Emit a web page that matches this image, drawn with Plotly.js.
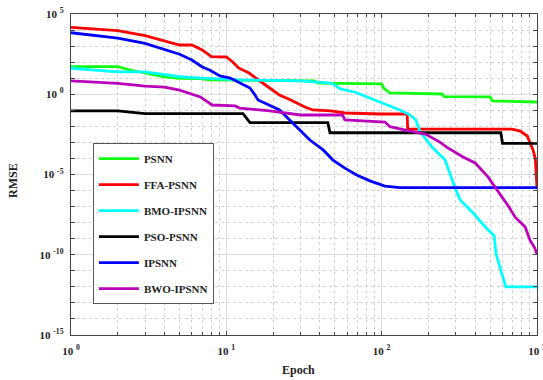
<!DOCTYPE html>
<html>
<head>
<meta charset="utf-8">
<script src="https://cdn.plot.ly/plotly-3.0.1.min.js"></script>
<style>html,body{margin:0;padding:0;background:#fff;}#chart{width:543px;height:380px;}</style>
</head>
<body>
<div id="chart"></div>
<script>
// Series names
const seriesNames = ["PSNN", "FFA-PSNN", "BMO-IPSNN", "PSO-PSNN", "IPSNN", "BWO-IPSNN"];
const seriesColors = ["#11ff11", "#ff0000", "#00ffff", "#000000", "#0000ff", "#bb00bb"];

// PSNN
const psnnEpoch = [1, 2, 2.4, 3, 4, 5, 6.8, 7.8, 30, 37, 39, 100, 103, 113, 245, 252, 500, 515, 1000];
const psnnRmse  = [52.5, 52.5, 32.4, 20.4, 12.3, 9.8, 9.3, 7.8, 6.8, 6.8, 5.0, 4.4, 2.45, 1.2, 1.04, 0.72, 0.68, 0.38, 0.33];

// FFA-PSNN
const ffaEpoch = [1, 2, 3, 4, 5, 6, 7, 8, 10, 11, 12, 14, 17, 19, 22, 26, 32, 36, 47, 58, 98, 146, 147, 690, 780, 865, 943, 975, 1000];
const ffaRmse  = [1.48e4, 9.1e3, 4.5e3, 2.2e3, 1.17e3, 1.17e3, 575, 219, 209, 102, 43.6, 20.9, 5.75, 2.45, 0.89, 0.44, 0.162, 0.105, 0.091, 0.068, 0.059, 0.059, 6.8e-3, 6.8e-3, 5.1e-3, 2.5e-3, 3.4e-4, 1.0e-4, 1.45e-6];

// BMO-IPSNN
const bmoEpoch = [1, 2, 3, 4, 5, 7, 12, 30, 47, 50, 54, 67, 78, 90, 105, 122, 131, 152, 166, 177, 211, 256, 276, 297, 320, 388, 465, 530, 545, 580, 615, 630, 1000];
const bmoRmse  = [41.7, 25.1, 24.5, 15.8, 12.3, 10.2, 7.8, 6.8, 5.0, 3.8, 2.14, 1.38, 0.78, 0.44, 0.245, 0.138, 0.105, 0.051, 0.025, 4.5e-3, 5.1e-4, 7.9e-5, 9.3e-6, 1.45e-6, 2.6e-7, 4.0e-8, 5.4e-9, 1.5e-9, 1.1e-10, 1.5e-11, 1.7e-12, 1.0e-12, 1.0e-12];

// PSO-PSNN
const psoEpoch = [1, 2, 3, 12.8, 14.2, 45, 46.5, 585, 600, 1000];
const psoRmse  = [0.091, 0.091, 0.062, 0.062, 0.017, 0.017, 4.0e-3, 4.0e-3, 8.7e-4, 8.7e-4];

// IPSNN
const ipEpoch = [1, 2, 3, 4, 5, 6, 7, 7.8, 9.1, 10.6, 12.2, 14.2, 15.3, 16, 22, 27.7, 34.5, 42, 48.6, 58, 69, 84, 105, 131, 1000];
const ipRmse  = [6.8e3, 3.1e3, 1.48e3, 631, 309, 135, 50, 32.4, 13.8, 10.2, 5.0, 2.45, 0.89, 0.44, 0.105, 0.012, 1.4e-3, 3.4e-4, 7.9e-5, 2.5e-5, 9.3e-6, 4.0e-6, 1.9e-6, 1.5e-6, 1.5e-6];

// BWO-IPSNN
const bwoEpoch = [1, 2, 3, 4, 5, 6.3, 6.8, 8.1, 11.4, 12.2, 19, 30, 56, 58, 105, 113, 131, 152, 191, 214, 237, 262, 297, 334, 400, 443, 485, 536, 594, 660, 723, 840, 900, 960, 1000];
const bwoRmse  = [6.8, 4.8, 3.2, 2.8, 1.8, 0.89, 0.68, 0.214, 0.186, 0.138, 0.091, 0.051, 0.051, 0.025, 0.0186, 9.5e-3, 6.8e-3, 5.1e-3, 3.3e-3, 1.86e-3, 1.05e-3, 5.1e-4, 2.5e-4, 1.23e-4, 5.2e-5, 1.9e-5, 6.9e-6, 1.66e-6, 4.0e-7, 9.5e-8, 2.2e-8, 5.4e-9, 8.3e-10, 3.0e-10, 1.1e-10];

// Tick labels
const xTickVals = [1, 10, 100, 1000];
const xTickText = ["<b>10 <sup>0</sup></b>", "<b>10 <sup>1</sup></b>", "<b>10 <sup>2</sup></b>", "<b>10 <sup>3</sup></b>"];
const yTickVals = [1e-15, 1e-10, 1e-5, 1, 1e5];
const yTickText = ["<b>10 <sup>-15</sup></b>", "<b>10 <sup>-10</sup></b>", "<b>10 <sup>-5</sup></b>", "<b>10 <sup>0</sup></b>", "<b>10 <sup>5</sup></b>"];
const xMinorVals = [2,3,4,5,6,7,8,9,20,30,40,50,60,70,80,90,200,300,400,500,600,700,800,900];
const yMinorVals = [1e-14,1e-13,1e-12,1e-11,1e-9,1e-8,1e-7,1e-6,1e-4,1e-3,1e-2,1e-1,1e1,1e2,1e3,1e4];
const xTitle = "Epoch";
const yTitle = "RMSE";

const xs = [psnnEpoch, ffaEpoch, bmoEpoch, psoEpoch, ipEpoch, bwoEpoch];
const ys = [psnnRmse, ffaRmse, bmoRmse, psoRmse, ipRmse, bwoRmse];

const traces = seriesNames.map((n, i) => ({
  x: xs[i], y: ys[i], name: '<b>' + n + '</b>', type: 'scatter', mode: 'lines',
  legendgroup: 'g' + i,
  line: {color: seriesColors[i], width: 2.8}
}));

const serif = 'Liberation Serif, Times New Roman, serif';
const tickFont = {family: serif, size: 11, color: '#222'};

const axisCommon = {
  type: 'log', showline: true, linecolor: '#444', linewidth: 1.3, mirror: 'ticks',
  ticks: 'inside', ticklen: 4, tickcolor: '#444', tickwidth: 1,
  showgrid: true, gridcolor: '#dddddd', gridwidth: 1,
  zeroline: false, tickfont: tickFont, tickmode: 'array',
  ticklabeloverflow: 'allow'
};

const layout = {
  width: 543, height: 380,
  margin: {l: 71, r: 6, t: 14, b: 45},
  paper_bgcolor: '#fff', plot_bgcolor: '#fff',
  showlegend: true,
  xaxis: Object.assign({}, axisCommon, {
    range: [0, 3], tickvals: xTickVals, ticktext: xTickText, ticklabelstandoff: 5,
    minor: {tickmode: 'array', tickvals: xMinorVals, ticks: 'inside', ticklen: 3, tickcolor: '#444', showgrid: true, gridcolor: '#d2d2d2', griddash: 'dot', gridwidth: 1}
  }),
  yaxis: Object.assign({}, axisCommon, {
    range: [-15, 5], tickvals: yTickVals, ticktext: yTickText, ticklabelstandoff: 4,
    minor: {tickmode: 'array', tickvals: yMinorVals, ticks: 'inside', ticklen: 4, tickcolor: '#444', showgrid: true, gridcolor: '#d2d2d2', griddash: 'dot', gridwidth: 1}
  }),
  annotations: [
    {text: '<b>' + xTitle + '</b>', xref: 'paper', yref: 'paper', x: (298 - 71) / 466, y: -(370 - 335) / 321,
     xanchor: 'center', yanchor: 'middle', showarrow: false, font: {family: serif, size: 12, color: '#222'}},
    {text: '<b>' + yTitle + '</b>', xref: 'paper', yref: 'paper', x: -(71 - 13) / 466, y: (335 - 181) / 321,
     xanchor: 'center', yanchor: 'middle', textangle: -90, showarrow: false, font: {family: serif, size: 12, color: '#222'}}
  ],
  legend: {
    x: 0.047, y: 0.598, xanchor: 'left', yanchor: 'top',
    bgcolor: '#fff', bordercolor: '#555', borderwidth: 1,
    font: {family: serif, size: 11, color: '#222'},
    traceorder: 'grouped', tracegroupgap: 7, itemwidth: 40
  }
};

Plotly.newPlot('chart', traces, layout, {displayModeBar: false, staticPlot: true});
</script>
</body>
</html>
